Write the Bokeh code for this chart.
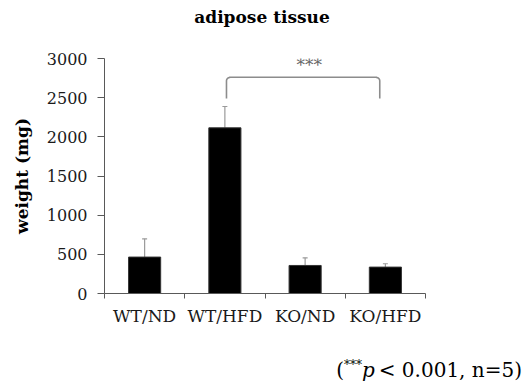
import numpy as np
from bokeh.plotting import figure
from bokeh.layouts import column
from bokeh.models import (ColumnDataSource, Range1d, LinearAxis, Div,
                          FixedTicker, Whisker, TeeHead, Label)
from bokeh.embed import file_html
from bokeh.resources import INLINE

# ---- data ----
categories = ["WT/ND", "WT/HFD", "KO/ND", "KO/HFD"]
weight_mean = [465, 2115, 358, 337]
weight_sd = [233, 272, 98, 43]
y_ticks = [0, 500, 1000, 1500, 2000, 2500, 3000]
title_text = "adipose tissue"
y_label = "weight (mg)"
sig_marker = "***"
footnote_html = "(<sup style='font-size:12px;line-height:0'>***</sup><i>p</i>&thinsp;&lt; 0.001, n=5)"
bracket_groups = ["WT/HFD", "KO/HFD"]
bracket_top = 2760
bracket_leg_bottom = 2490

SERIF = "DejaVu Serif"
W = 524
TITLE_H, MAIN_H, FOOT_H = 34, 311, 42

# ---- title strip ----
title_div = Div(
    text=(f"<div style=\"width:{W}px;text-align:center;font-family:'{SERIF}';"
          f"font-weight:bold;font-size:17px;line-height:{TITLE_H}px;color:black;\">"
          f"{title_text}</div>"),
    width=W, height=TITLE_H, margin=0)

# ---- main chart ----
n = len(categories)
centers = [i + 0.5 for i in range(n)]
src = ColumnDataSource(dict(
    x=centers,
    mean=weight_mean,
    upper=[m + s for m, s in zip(weight_mean, weight_sd)],
))

p = figure(width=W, height=MAIN_H, x_range=Range1d(0, n), y_range=Range1d(0, 3000),
           x_axis_location=None, y_axis_location=None,
           output_backend="svg", toolbar_location=None,
           min_border_left=104, min_border_right=99, min_border_top=24,
           min_border_bottom=52, margin=0)
p.outline_line_color = None
p.xgrid.visible = False
p.ygrid.visible = False

# y axis
yax = LinearAxis(ticker=FixedTicker(ticks=y_ticks))
yax.axis_line_color = "#595959"
yax.major_tick_line_color = "#595959"
yax.minor_tick_line_color = None
yax.major_tick_out = 7
yax.major_tick_in = 0
yax.major_label_standoff = 10
yax.major_label_text_font = SERIF
yax.major_label_text_font_size = "16px"
yax.major_label_text_color = "#1a1a1a"
yax.axis_label = y_label
yax.axis_label_text_font = SERIF
yax.axis_label_text_font_style = "bold"
yax.axis_label_text_font_size = "17px"
yax.axis_label_text_color = "black"
yax.axis_label_standoff = 12
p.add_layout(yax, "left")

# x axis: labels at category centres, ticks at category boundaries
xax = LinearAxis(ticker=FixedTicker(ticks=centers, minor_ticks=list(range(n + 1))))
xax.major_label_overrides = {c: lab for c, lab in zip(centers, categories)}
xax.axis_line_color = "#595959"
xax.major_tick_line_color = None
xax.major_tick_out = 0
xax.major_tick_in = 0
xax.minor_tick_line_color = "#595959"
xax.minor_tick_out = 5
xax.minor_tick_in = 0
xax.major_label_standoff = 7
xax.major_label_text_font = SERIF
xax.major_label_text_font_size = "17px"
xax.major_label_text_color = "#1a1a1a"
p.add_layout(xax, "below")

# bars
p.vbar(x="x", top="mean", width=0.4, source=src, fill_color="black",
       line_color="#333333", line_width=1)

# error bars (upper only)
w = Whisker(base="x", lower="mean", upper="upper", source=src,
            line_color="#9a9a9a", line_width=1.2,
            upper_head=TeeHead(size=5, line_color="#9a9a9a", line_width=1.2),
            lower_head=None)
p.add_layout(w)

# significance bracket
c0 = centers[categories.index(bracket_groups[0])]
c1 = centers[categories.index(bracket_groups[1])]
i0 = c0 + 0.02
i1 = c1 - 0.07
rx, ry = 0.05, 45.0
t = np.linspace(0, np.pi / 2, 8)
left_arc_x = i0 + rx - rx * np.cos(t)
left_arc_y = bracket_top - ry + ry * np.sin(t)
right_arc_x = i1 - rx + rx * np.sin(t)
right_arc_y = bracket_top - ry + ry * np.cos(t)
bx = np.concatenate([[i0], left_arc_x, right_arc_x, [i1]])
by = np.concatenate([[bracket_leg_bottom], left_arc_y, right_arc_y, [bracket_leg_bottom]])
p.line(bx, by, line_color="#8c8c8c", line_width=1.6)

p.add_layout(Label(x=(c0 + c1) / 2 + 0.05, y=bracket_top + 160,
                   text=sig_marker, text_align="center", text_baseline="middle",
                   text_font=SERIF, text_font_size="17px", text_color="#666666"))

# ---- footnote strip ----
foot_div = Div(
    text=(f"<div style=\"width:{W - 2}px;text-align:right;font-family:'{SERIF}';"
          f"font-size:20px;line-height:20px;padding-top:15px;color:black;\">"
          f"{footnote_html}</div>"),
    width=W, height=FOOT_H, margin=0)

layout = column(title_div, p, foot_div, spacing=0)
open("out.html", "w").write(file_html(layout, INLINE))
